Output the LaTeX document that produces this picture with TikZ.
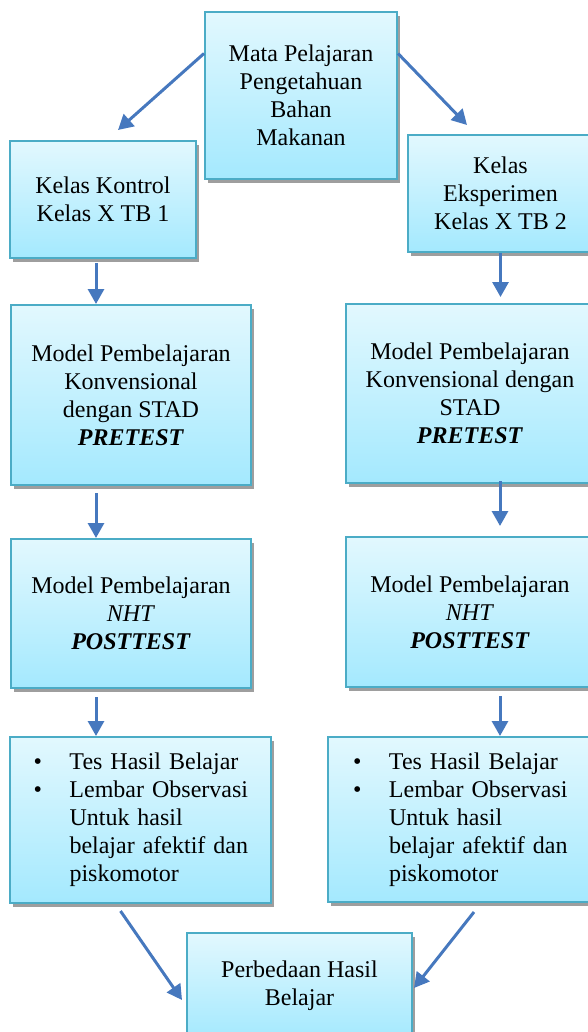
\documentclass[tikz,border=0pt]{standalone}
\usepackage{fontspec}
\setmainfont{Liberation Serif}
\usepackage{tikz}
\usetikzlibrary{arrows.meta, shadows, calc}

\definecolor{boxtop}{RGB}{226,248,254}
\definecolor{boxbot}{RGB}{164,233,254}
\definecolor{boxline}{RGB}{75,172,198}
\definecolor{arrblue}{RGB}{70,120,190}

\begin{document}
\begin{tikzpicture}[
  x=0.5pt, y=-0.5pt,
  every node/.style = {font=\fontsize{12pt}{14pt}\selectfont},
  flowbox/.style = {rectangle, draw=boxline, line width=1pt,
                    top color=boxtop, bottom color=boxbot,
                    drop shadow={shadow xshift=1.5pt, shadow yshift=-2pt,
                                 fill=black!38, opacity=1},
                    align=center, inner sep=0pt},
  listbox/.style = {flowbox, align=left, inner xsep=11pt, text width=107pt},
  arr/.style     = {-{Triangle[length=7.5pt, width=8pt]},
                    line width=1.5pt, arrblue},
]
\useasboundingbox (0,0) rectangle (588,1032);
\clip (0,0) rectangle (588,1032);

%% ══ TOP ══════════════════════════════════════════════════════════════
\node[flowbox, minimum width=96pt, minimum height=83.5pt]
  at (301,95.5) (mata) {Mata Pelajaran\\Pengetahuan\\Bahan\\Makanan};

\node[flowbox, minimum width=93pt, minimum height=58.5pt]
  at (103,199.5) (kontrol) {Kelas Kontrol\\Kelas X TB 1};

\node[flowbox, minimum width=92.5pt, minimum height=58.5pt]
  at (500.5,193.5) (eksperimen) {Kelas\\Eksperimen\\Kelas X TB 2};

\draw[arr] ([yshift=21pt]mata.west) -- ([xshift=7.5pt,yshift=5pt]kontrol.north);
\draw[arr] ([yshift=21pt]mata.east) -- ([xshift=-16.75pt,yshift=4.5pt]eksperimen.north);

%% ══ PRETEST ROW ══════════════════════════════════════════════════════
\node[flowbox, minimum width=120pt, minimum height=90pt]
  at (131,395) (modelL) {Model Pembelajaran\\Konvensional\\dengan STAD\\
  \textbf{\textit{PRETEST}}};

\node[flowbox, minimum width=124pt, minimum height=89.5pt]
  at (470,393.5) (modelR) {Model Pembelajaran\\Konvensional dengan\\STAD\\
  \textbf{\textit{PRETEST}}};

\draw[arr] ([xshift=-3.5pt,yshift=-2pt]kontrol.south)
  -- ([xshift=-3.5pt]kontrol.south |- modelL.north);
\draw[arr] (eksperimen.south) -- ([yshift=3pt]eksperimen.south |- modelR.north);

%% ══ POSTTEST ROW ═════════════════════════════════════════════════════
\node[flowbox, minimum width=120pt, minimum height=74.5pt]
  at (131,613.5) (nhtL) {Model Pembelajaran\\\textit{NHT}\\
  \textbf{\textit{POSTTEST}}};

\node[flowbox, minimum width=124pt, minimum height=75pt]
  at (470,612) (nhtR) {Model Pembelajaran\\\textit{NHT}\\
  \textbf{\textit{POSTTEST}}};

\draw[arr] ([xshift=-17.5pt,yshift=-3.5pt]modelL.south)
  -- ([xshift=-17.5pt]modelL.south |- nhtL.north);
\draw[arr] ([xshift=15pt,yshift=1.5pt]modelR.south)
  -- ([xshift=15pt,yshift=5pt]modelR.south |- nhtR.north);

%% ══ HASIL ROW ════════════════════════════════════════════════════════
\node[listbox, minimum width=130.5pt, minimum height=83pt]
  at (140.5,820) (tesL) {%
  \begin{tabular}{@{}p{18pt}@{}l@{}}
    \textbullet & Tes Hasil Belajar\\
    \textbullet & Lembar Observasi\\
                & Untuk hasil\\
                & belajar afektif dan\\
                & piskomotor
  \end{tabular}};

\node[listbox, minimum width=132pt, minimum height=82.5pt, inner xsep=12pt]
  at (460,819.5) (tesR) {%
  \begin{tabular}{@{}p{18pt}@{}l@{}}
    \textbullet & Tes Hasil Belajar\\
    \textbullet & Lembar Observasi\\
                & Untuk hasil\\
                & belajar afektif dan\\
                & piskomotor
  \end{tabular}};

\draw[arr] ([xshift=-17.5pt,yshift=-4pt]nhtL.south)
  -- ([xshift=-17.5pt]nhtL.south |- tesL.north);
\draw[arr] ([xshift=15pt,yshift=-4pt]nhtR.south)
  -- ([xshift=15pt]nhtR.south |- tesR.north);

%% ══ RESULT ═══════════════════════════════════════════════════════════
\node[flowbox, minimum width=112.5pt, minimum height=53pt]
  at (299.5,986) (beda) {Perbedaan Hasil\\Belajar};

\draw[arr] ([xshift=-10pt,yshift=-3.5pt]tesL.south) -- ([xshift=-2pt,yshift=-7pt]beda.west);
\draw[arr] ([xshift=7pt,yshift=-4.5pt]tesR.south) -- ([xshift=0.5pt,yshift=-1pt]beda.east);

\end{tikzpicture}
\end{document}
